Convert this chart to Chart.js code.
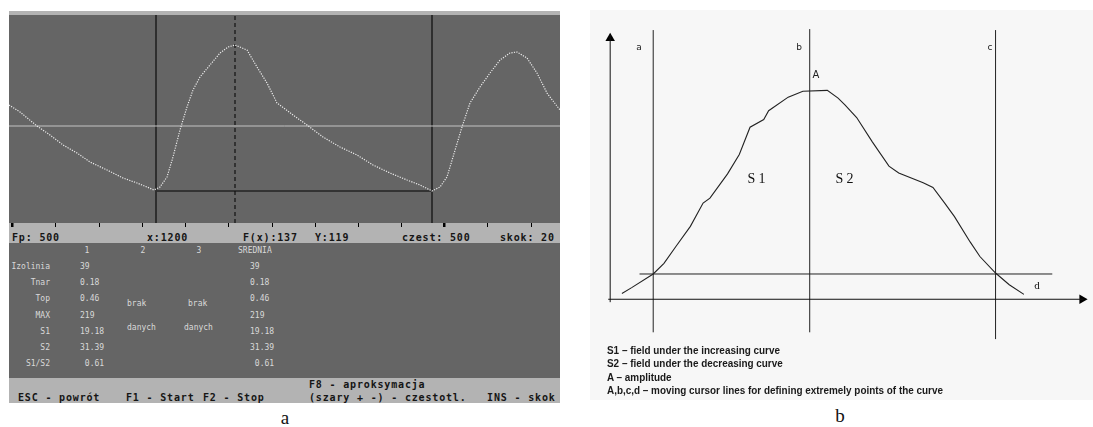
<!DOCTYPE html>
<html><head><meta charset="utf-8">
<script src="https://cdn.jsdelivr.net/npm/chart.js@4.4.1/dist/chart.umd.min.js"></script>
<style>
html,body{margin:0;padding:0;}
body{width:1093px;height:427px;background:#fff;position:relative;overflow:hidden;}
.bg{position:absolute;}
.t{position:absolute;white-space:pre;line-height:1;}
canvas{position:absolute;}
</style></head><body>
<div class="bg" style="left:9px;top:11px;width:551px;height:4px;background:#b3b3b3"></div>
<div class="bg" style="left:9px;top:15px;width:551px;height:208px;background:#656565"></div>
<div class="bg" style="left:9px;top:223px;width:551px;height:20px;background:#b3b3b3"></div>
<div class="bg" style="left:9px;top:243px;width:551px;height:135px;background:#656565"></div>
<div class="bg" style="left:9px;top:378px;width:551px;height:25px;background:#b3b3b3"></div>
<div class="bg" style="left:590px;top:10px;width:503px;height:390px;background:#f7f7f7"></div>
<canvas id="ca" width="551" height="212" style="left:9px;top:15px"></canvas>
<canvas id="cb" width="503" height="390" style="left:590px;top:10px"></canvas>
<script>
// ---------- Panel a : signal trace (x = sample, y = level) ----------
const traceX = [-6,16,50,76,102,130,156,190,222,250,270,284,296,310,322,336,350,362,376,396,416,432,446,470,490,510,530,562,590,622,656,690,722,756,790,816,840,856,870,882,900,916,936,956,976,996,1010,1030,1050,1070,1096];
const traceY = [118,111,97,88,78,70,61,53,45,40,36,33,36,46,66,93,116,133,146,158,170,176,178,173,156,140,120,108,98,86,76,68,58,50,43,38,32,36,46,66,96,120,136,150,163,170,171,165,150,130,113];
const isolineLevel = 97;
const cursorLeftX = 288, cursorPeakX = 446, cursorRightX = 840;
const baselineLevel = 32;
const statusTicks = [0,86,174,260,346,434,520,606,692,778,864,950,1038];
const majorTickIdx = [0,10];

// table texts
const colHeaders = ['1','2','3','SREDNIA'];
const rowLabels = ['Izolinia','Tnar','Top','MAX','S1','S2','S1/S2'];
const col1Values = ['39','0.18','0.46','219','19.18','31.39',' 0.61'];
const avgValues = ['39','0.18','0.46','219','19.18','31.39',' 0.61'];
const statusTexts = ['Fp: 500','x:1200','F(x):137','Y:119','czest: 500','skok: 20'];

// ---------- Panel b : schematic curve ----------
const curveX = [12,22,44,55,67,82,95,102,120,132,143,157,162,182,197,222,233,240,252,268,285,295,320,330,342,352,368,378,394,408,423];
const curveY = [6,12,26,37,54,75,99,104,129,149,177,185,194,208,214,215,207,200,187,162,137,130,120,115,99,85,59,44,27,15,5];
const cursorAx = 44, cursorBx = 204, cursorCx = 394, cursorDlevel = 26;
const legendLines = ['S1 \u2013 field under the increasing curve','S2 \u2013 field under the decreasing curve','A \u2013 amplitude','A,b,c,d \u2013 moving cursor lines for defining extremely points of the curve'];

const pts = (xs, ys) => xs.map((x,i)=>({x, y: ys[i]}));
const seg = (x1,y1,x2,y2) => [{x:x1,y:y1},{x:x2,y:y2}];

new Chart(document.getElementById('ca'), {
  type:'line',
  data:{datasets:[
    {data: pts(traceX, traceY), borderColor:'#ececec', borderWidth:1.2, borderDash:[1.2,1.3], pointRadius:0, tension:0},
    {data: seg(-6,isolineLevel,1096,isolineLevel), borderColor:'#c4c4c4', borderWidth:1, pointRadius:0},
    {data: seg(cursorLeftX,0,cursorLeftX,208), borderColor:'#2e2e2e', borderWidth:2, pointRadius:0},
    {data: seg(cursorRightX,0,cursorRightX,208), borderColor:'#2e2e2e', borderWidth:2, pointRadius:0},
    {data: seg(cursorPeakX,0,cursorPeakX,208), borderColor:'#111', borderWidth:1.2, borderDash:[4,3], pointRadius:0},
    {data: seg(cursorLeftX,baselineLevel,cursorRightX,baselineLevel), borderColor:'#333', borderWidth:2, pointRadius:0}
  ]},
  options:{
    animation:false, responsive:false, events:[],
    plugins:{legend:{display:false}, tooltip:{enabled:false}},
    layout:{padding:0},
    scales:{
      x:{type:'linear', min:-6, max:1096,
         ticks:{display:false}, border:{display:false},
         grid:{drawOnChartArea:false, color:'#000', tickLength:4, lineWidth:c=>majorTickIdx.includes(c.index)?2.5:1},
         afterBuildTicks:s=>{ s.ticks = statusTicks.map(v=>({value:v})); }},
      y:{type:'linear', display:false, min:0, max:208}
    }
  }
});

new Chart(document.getElementById('cb'), {
  type:'line',
  data:{datasets:[
    {data: pts(curveX, curveY), borderColor:'#222', borderWidth:1.1, pointRadius:0, tension:0},
    {data: seg(0,-3,0,272), borderColor:'#111', borderWidth:1, pointRadius:0},
    {data: seg(-2,0,484,0), borderColor:'#111', borderWidth:1, pointRadius:0},
    {data: seg(cursorAx,-34,cursorAx,277), borderColor:'#222', borderWidth:1, pointRadius:0},
    {data: seg(cursorBx,-34,cursorBx,278), borderColor:'#222', borderWidth:1, pointRadius:0},
    {data: seg(cursorCx,-41,cursorCx,277), borderColor:'#222', borderWidth:1, pointRadius:0},
    {data: seg(30,cursorDlevel,452,cursorDlevel), borderColor:'#222', borderWidth:1, pointRadius:0},
    {data: [{x:0,y:268.5}], showLine:false, pointStyle:'triangle', pointRadius:5.5, pointRotation:0, pointBackgroundColor:'#000', pointBorderColor:'#000', pointBorderWidth:0},
    {data: [{x:482.5,y:0}], showLine:false, pointStyle:'triangle', pointRadius:5.5, pointRotation:90, pointBackgroundColor:'#000', pointBorderColor:'#000', pointBorderWidth:0}
  ]},
  options:{
    animation:false, responsive:false, events:[],
    plugins:{legend:{display:false}, tooltip:{enabled:false}},
    layout:{padding:0},
    datasets:{line:{clip:false}},
    scales:{
      x:{type:'linear', display:false, min:-15, max:488},
      y:{type:'linear', display:false, min:-98, max:292}
    }
  }
});

// ---------- texts ----------
function txt(s, x, y, css, align){
  const d = document.createElement('div');
  d.className = 't'; d.textContent = s; d.style.cssText = css;
  d.style.left = x + 'px'; d.style.top = y + 'px';
  const tx = align === 'center' ? '-50%' : align === 'right' ? '-100%' : '0';
  d.style.transform = 'translate(' + tx + ',-50%)';
  document.body.appendChild(d);
  return d;
}
const fTab = "font:8px 'DejaVu Sans Mono';color:#d9d9d9;";
const fStat = "font:bold 10px 'DejaVu Sans Mono';letter-spacing:0.83px;color:#151515;";
const headerX = [87,143,199,238];
colHeaders.forEach((h,i)=>txt(h, headerX[i], 250, fTab, i<3?'center':'left'));
rowLabels.forEach((r,i)=>{
  const y = 266 + i*16.2;
  txt(r, 50, y, fTab, 'right');
  txt(col1Values[i], 80, y, fTab, 'left');
  txt(avgValues[i], 250, y, fTab, 'left');
});
txt('brak', 127, 303, fTab, 'left');
txt('danych', 127, 327, fTab, 'left');
txt('brak', 188, 303, fTab, 'left');
txt('danych', 184, 327, fTab, 'left');
const statusX = [12,147,243,315,402,500];
statusTexts.forEach((s,i)=>txt(s, statusX[i], 237, fStat, 'left'));
txt('ESC - powrót', 18, 397, fStat, 'left');
txt('F1 - Start', 126, 397, fStat, 'left');
txt('F2 - Stop', 203, 397, fStat, 'left');
txt('F8 - aproksymacja', 309, 384, fStat, 'left');
txt('(szary + -) - czestotl.   INS - skok', 309, 397, fStat, 'left');
txt('a', 285, 418, "font:19px 'Liberation Serif';color:#111;", 'center');

const fSmall = "font:9px 'DejaVu Sans';color:#222;";
txt('a', 639, 47, fSmall, 'center');
txt('b', 799, 47, fSmall, 'center');
txt('c', 990, 47, fSmall, 'center');
txt('A', 816, 74, "font:10px 'DejaVu Sans';color:#222;", 'center');
txt('S1', 758, 179, "font:14px 'Liberation Serif';letter-spacing:3px;color:#111;", 'center');
txt('S2', 846, 179, "font:14px 'Liberation Serif';letter-spacing:3px;color:#111;", 'center');
txt('d', 1037, 285, "font:11px 'Liberation Serif';color:#111;", 'center');
// legend: narrow bold sans (condensed by horizontal scaling to match the reference width)
const fLeg = "font:bold 11.5px 'Liberation Sans',sans-serif;color:#1a1a1a;";
const legDivs = legendLines.map((l,i)=>txt(l, 607, 350 + i*13.3, fLeg, 'left'));
const longest = Math.max(...legDivs.map(d=>d.offsetWidth));
const k = 336 / longest;
legDivs.forEach(d=>{ d.style.transformOrigin = '0 50%'; d.style.transform = 'translate(0,-50%) scaleX(' + k.toFixed(3) + ')'; });
txt('b', 840, 416, "font:19px 'Liberation Serif';color:#111;", 'center');
</script>
</body></html>
